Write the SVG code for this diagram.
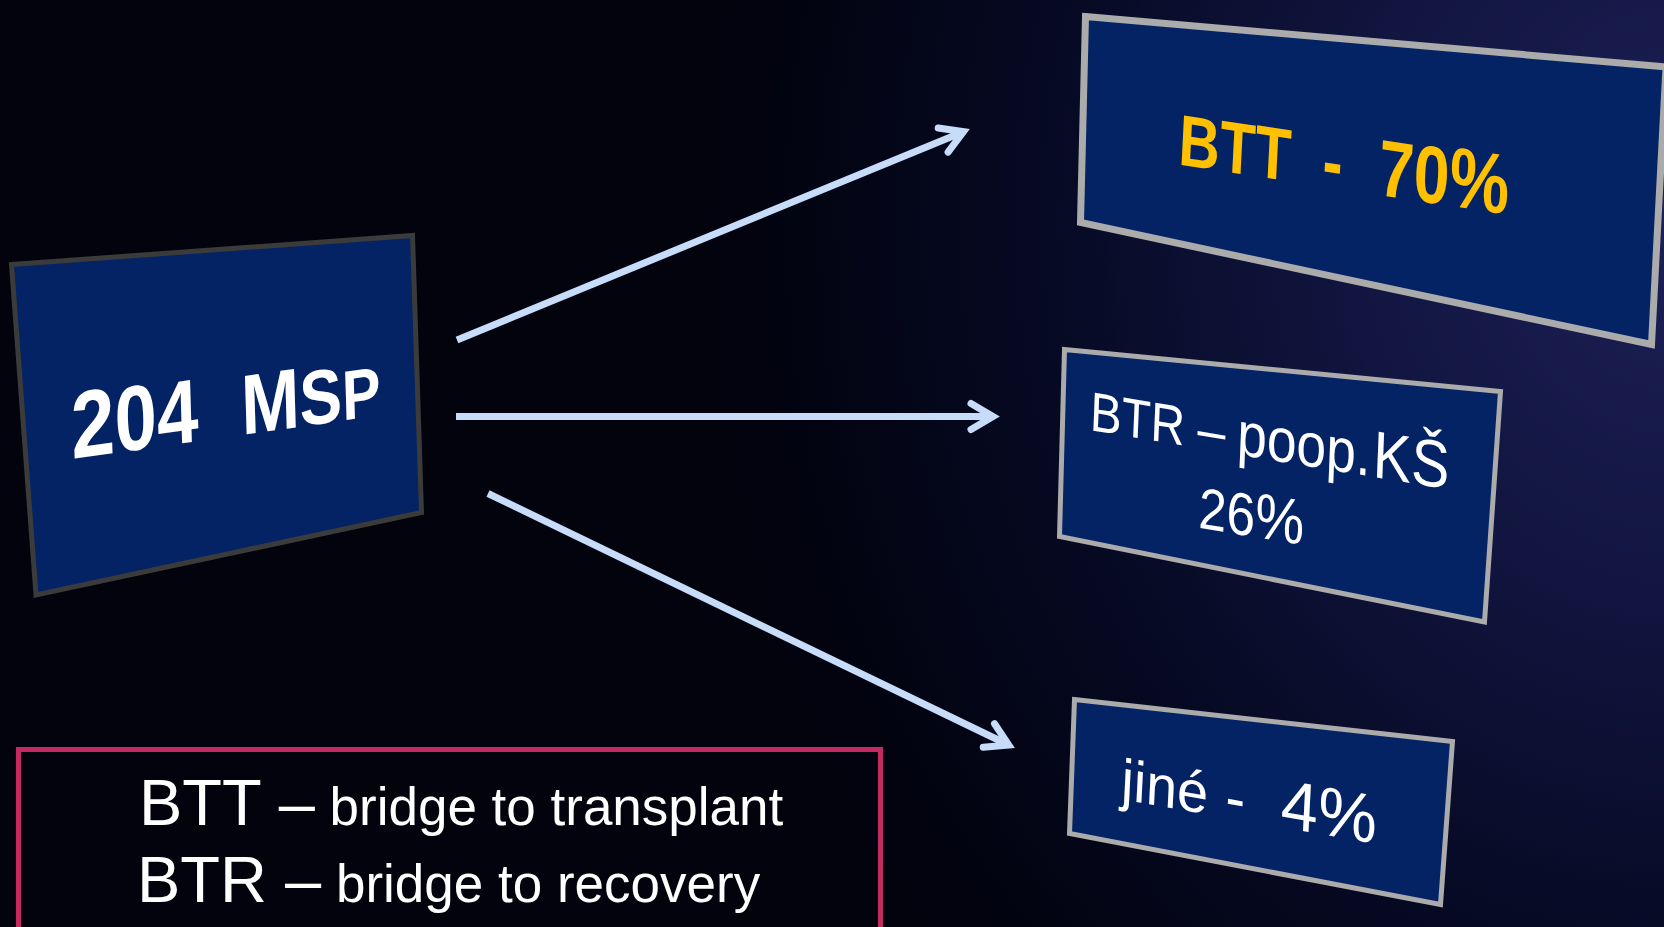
<svg xmlns="http://www.w3.org/2000/svg" width="1664" height="927" viewBox="0 0 1664 927">
  <defs>
    <radialGradient id="bg" gradientUnits="userSpaceOnUse" cx="1680" cy="220" r="1050" gradientTransform="translate(1680 220) scale(1 1.15) translate(-1680 -220)">
      <stop offset="0" stop-color="#1d2056"/>
      <stop offset="0.32" stop-color="#11153f"/>
      <stop offset="0.62" stop-color="#060922"/>
      <stop offset="0.88" stop-color="#02030f"/>
      <stop offset="1" stop-color="#02030c"/>
    </radialGradient>
    <marker id="arrowhead" markerUnits="userSpaceOnUse" viewBox="-30 -20 40 40" refX="0" refY="0" markerWidth="40" markerHeight="40" orient="auto" overflow="visible">
      <path d="M -22,-13 L 0,0 L -22,13" fill="none" stroke="#c6dcf8" stroke-width="7" stroke-linecap="round" stroke-linejoin="miter"/>
    </marker>
  </defs>
  <style>
    .panel { fill: #032364; stroke-linejoin: miter; }
    .panel-dark { stroke: #3b3b3b; stroke-width: 5; }
    .panel-light { stroke: #ababab; stroke-width: 5; }
    .lbl { font-family: "Liberation Sans", Arial, sans-serif; fill: #ffffff; }
    .bold { font-weight: bold; }
    .gold { fill: #ffc000; }
    .link { stroke: #c6dcf8; stroke-width: 7; stroke-linecap: butt; fill: none; marker-end: url(#arrowhead); }
    .legend-frame { fill: none; stroke: #c42a62; stroke-width: 5; }
  </style>

  <rect x="0" y="0" width="1664" height="927" fill="url(#bg)"/>

  <!-- source panel -->
  <g id="node-msp">
    <polygon class="panel panel-dark" points="11.5,264.5 412.5,235.5 421.5,512.5 36,595"/>
    <text class="lbl bold" transform="matrix(0.825,-0.117,0.03,1,72,459)"><tspan x="0" y="0" font-size="95">2</tspan><tspan font-size="92">0</tspan><tspan font-size="90">4</tspan><tspan x="206" y="0" font-size="85">M</tspan><tspan font-size="77">S</tspan><tspan font-size="70">P</tspan></text>
  </g>

  <!-- outcome panels -->
  <g id="node-btt">
    <polygon class="panel panel-light" style="stroke-width:7" points="1085.5,16.5 1666,67 1651.5,344.5 1080.5,222.5"/>
    <text class="lbl bold gold" transform="matrix(0.79,0.12,-0.05,1,1177.8,164.4)"><tspan x="0" y="0" font-size="72">B</tspan><tspan font-size="73">T</tspan><tspan font-size="74">T</tspan><tspan x="182" y="0" font-size="76">-</tspan><tspan x="252.7" y="0" font-size="80">7</tspan><tspan font-size="81">0</tspan><tspan font-size="85">%</tspan></text>
  </g>

  <g id="node-btr">
    <polygon class="panel panel-light" points="1064.5,349.5 1500.5,391.5 1484.5,622 1059.5,536.5"/>
    <text class="lbl" transform="matrix(0.86,0.142,-0.04,1,1089.5,430)"><tspan x="0" y="0" font-size="55">BTR</tspan><tspan x="125" y="0" font-size="58">–</tspan><tspan x="171" y="0" font-size="62">poop.</tspan><tspan x="328.8" y="0" font-size="66.5">KŠ</tspan><tspan x="129.8" y="79.2" font-size="58">2</tspan><tspan font-size="60">6</tspan><tspan font-size="64">%</tspan></text>
  </g>

  <g id="node-other">
    <polygon class="panel panel-light" points="1074.5,699.5 1452.5,741.5 1440.5,904.5 1069.5,833.5"/>
    <text class="lbl" transform="matrix(0.96,0.168,-0.05,1,1120.5,799.1)"><tspan x="0" y="0" font-size="58">jiné</tspan><tspan x="108.4" y="0" font-size="62">-</tspan><tspan x="166.2" y="0" font-size="69">4%</tspan></text>
  </g>

  <!-- connectors -->
  <g id="connectors">
    <line class="link" x1="457" y1="340" x2="963.5" y2="131.7"/>
    <line class="link" x1="456" y1="416.5" x2="993" y2="416.5"/>
    <line class="link" x1="488" y1="493.5" x2="1008.7" y2="745"/>
  </g>

  <!-- abbreviations -->
  <g id="legend">
    <rect class="legend-frame" x="18.5" y="749.5" width="862" height="200"/>
    <text class="lbl" x="139" y="825"><tspan font-size="65">BTT –</tspan><tspan font-size="53"> bridge to transplant</tspan></text>
    <text class="lbl" x="137" y="902"><tspan font-size="65">BTR –</tspan><tspan font-size="53"> bridge to recovery</tspan></text>
  </g>
</svg>
